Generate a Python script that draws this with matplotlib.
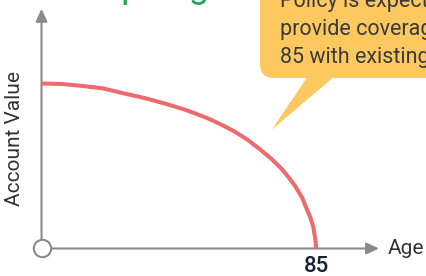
import numpy as np
import matplotlib.pyplot as plt
from matplotlib.patches import FancyBboxPatch, Polygon
from matplotlib.transforms import Affine2D

# values
ages = [45, 48, 51, 54, 57, 60, 63, 66, 69, 71, 73, 75, 77, 78.5, 80, 81, 82, 83,
        83.7, 84.2, 84.6, 84.85, 84.97, 85]
values = [100, 99.7, 98.5, 97.0, 94.0, 91.2, 87.8, 84.0, 79.3, 75.5, 71.2, 66.0,
          59.6, 54.3, 48.2, 43.2, 37.6, 30.6, 23.5, 18.5, 13.0, 7.0, 3.0, 0]
tick_age = 85
tick_label = '85'
x_label = 'Age'
y_label = 'Account Value'
title = 'Lapsing'
callout_lines = ['Policy is expected to',
                 'provide coverage to age',
                 '85 with existing premiums']

gray = '#8a8a8a'
red = '#ee6a6c'
yellow = '#fdc85f'
font = ['Roboto', 'DejaVu Sans']

fig = plt.figure(figsize=(4.26, 2.76), dpi=100)
ax = fig.add_axes([0, 0, 1, 1])
ax.axis('off')
ax.set_xlim(38.95, 101.03)
ax.set_ylim(-16.67, 150.6)

# pixel transform (top-left origin) for the decorations
px = Affine2D().scale(1, -1).translate(0, 276)

# callout box + pointer
box = FancyBboxPatch((260, -30), 200, 108, boxstyle='round,pad=0,rounding_size=14',
                     transform=px, fc=yellow, ec='none', zorder=1)
fig.patches.append(box)
tri = Polygon([(312, 70), (342, 70), (272, 129.5)], closed=True, transform=px,
              fc=yellow, ec='none', zorder=1)
fig.patches.append(tri)
for i, line in enumerate(callout_lines):
    fig.text(280, 7 + 28 * i, line, transform=px, fontsize=15.5, color='#3a3a3a',
             family=font, va='baseline', ha='left', zorder=3)

fig.text(82, -3, title, transform=px, fontsize=26, color='#1aaa55',
         family=font, va='baseline', ha='left')

# axes arrows
for tip in [(45, 145.2), (94.18, 0)]:
    ax.annotate('', xy=tip, xytext=(45, 0),
                arrowprops=dict(arrowstyle='-|>,head_length=0.75,head_width=0.35',
                                color=gray, lw=1.5, shrinkA=0, shrinkB=0,
                                mutation_scale=10))

ax.plot(ages, values, color=red, lw=2.9, solid_capstyle='butt', zorder=3)
ax.plot(45, 0, 'o', ms=12.5, mfc='white', mec=gray, mew=1.5, zorder=5)

ax.text(tick_age, -11.2, tick_label, ha='center', va='center', fontsize=16,
        color='#15213b', family=font, fontweight='medium')
ax.text(95.4, 0, x_label, ha='left', va='center', fontsize=15, color='#333333',
        family=font)
fig.text(15, 139, y_label, transform=px, rotation=90, ha='center', va='center',
         fontsize=15, color='#333333', family=font)

fig.savefig('out.png', dpi=100)
